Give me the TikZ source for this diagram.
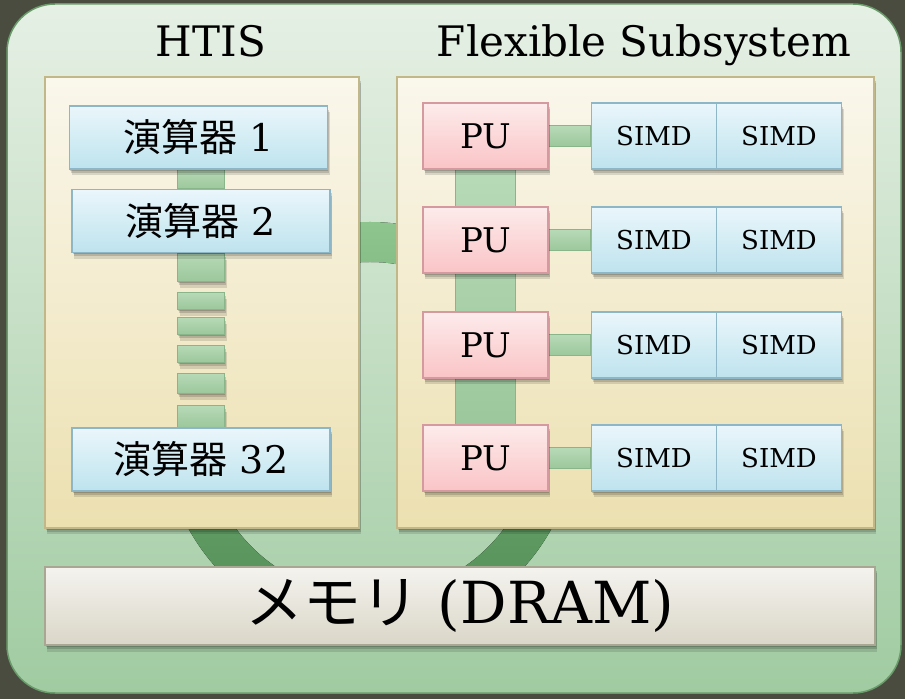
\documentclass[tikz,border=0pt]{standalone}
\usepackage{fontspec}
\setmainfont{DejaVu Serif}
\newfontfamily\cjk{Noto Sans CJK JP}
\usetikzlibrary{shadows}

\definecolor{bgdark}{HTML}{4A4C3F}
\definecolor{frametop}{HTML}{E6F0E5}
\definecolor{framebot}{HTML}{A0CBA1}
\definecolor{frameline}{HTML}{6A9C6B}
\definecolor{paneltop}{HTML}{FAF7EC}
\definecolor{panelbot}{HTML}{ECE0B0}
\definecolor{panelline}{HTML}{C2B788}
\definecolor{bluetop}{HTML}{EAF6FB}
\definecolor{bluebot}{HTML}{BEE3EE}
\definecolor{blueline}{HTML}{8DB6C6}
\definecolor{pinktop}{HTML}{FDEBEB}
\definecolor{pinkbot}{HTML}{FAC4C6}
\definecolor{pinkline}{HTML}{D49A9F}
\definecolor{memtop}{HTML}{F4F3EF}
\definecolor{membot}{HTML}{DAD6C8}
\definecolor{memline}{HTML}{A9A694}
\definecolor{bustop}{HTML}{B7DAB7}
\definecolor{busbot}{HTML}{9CC79C}
\definecolor{busline}{HTML}{8AB58B}
\definecolor{ringtop}{HTML}{8EC48E}
\definecolor{ringbot}{HTML}{4F8B53}

\pgfdeclarelayer{bg}
\pgfdeclarelayer{mid}
\pgfsetlayers{bg,mid,main}

\begin{document}
\begin{tikzpicture}[x=1pt, y=1pt,
	softshadow/.style={drop shadow={shadow xshift=0.5pt, shadow yshift=-2pt, opacity=0.16, fill=black},
		drop shadow={shadow xshift=1.5pt, shadow yshift=-4pt, opacity=0.15, fill=black},
		drop shadow={shadow xshift=2pt, shadow yshift=-6.5pt, opacity=0.12, fill=black}},
	panel/.style={draw=panelline, line width=1.5pt, top color=paneltop, bottom color=panelbot, minimum height=451pt, softshadow},
	calcbox/.style={draw=blueline, line width=1.2pt, top color=bluetop, bottom color=bluebot, minimum width=258pt, minimum height=63pt, inner sep=0pt, font=\fontsize{38}{44}\selectfont, softshadow},
	pubox/.style={draw=pinkline, line width=1.2pt, top color=pinktop, bottom color=pinkbot, minimum width=125pt, minimum height=66pt, inner sep=0pt, font=\fontsize{34}{40}\selectfont, softshadow},
	simdbox/.style={draw=blueline, line width=1.2pt, top color=bluetop, bottom color=bluebot, minimum width=125pt, minimum height=66pt, inner sep=0pt, font=\fontsize{26}{30}\selectfont, softshadow},
	busbar/.style={draw=busline, line width=1pt, top color=bustop, bottom color=busbot},
	title/.style={font=\fontsize{42}{50}\selectfont, inner sep=0pt, anchor=base}]
	\useasboundingbox (0,0) rectangle (905,699);

\begin{pgfonlayer}{bg}
	\fill[bgdark] (0,0) rectangle (905,699);
	\node[draw=frameline, line width=1.5pt, top color=frametop, bottom color=framebot, rounded corners=48pt,
		minimum width=894pt, minimum height=689pt] (frame) at (454,350.5) {};
	% ring bus behind the two panels
	\coordinate (ringc) at (370,270);
	\fill[top color=ringtop, bottom color=ringbot, even odd rule] (ringc) circle (207pt) (ringc) circle (167pt);
	\node[panel, minimum width=314pt] (htis) at (202,396.5) {};
	\node[panel, minimum width=477pt] (flex) at (635.5,396.5) {};
	\node[draw=memline, line width=1.5pt, top color=memtop, bottom color=membot, minimum width=830pt, minimum height=78pt,
		inner sep=0pt, font=\fontsize{58}{66}\selectfont, softshadow] (mem) at (460,93) {{\cjk メモリ} (DRAM)};
\end{pgfonlayer}

	\node[title] (htislbl) at (211,642) {HTIS};
	\node[title] (flexlbl) at (644,642) {Flexible Subsystem};

	\node[calcbox] (c1) at (198.5,561.5) {{\cjk 演算器} 1};
	\node[calcbox] (c2) at (201,478) {{\cjk 演算器} 2};
	\node[calcbox] (c32) at (201,239.5) {{\cjk 演算器} 32};

	\foreach \i/\yy in {1/563, 2/459, 3/354, 4/241}{
		\node[pubox] (pu\i) at (485.5,\yy) {PU};
		\node[simdbox] (sl\i) at (654,\yy) {SIMD};
		\node[simdbox] (sr\i) at (779,\yy) {SIMD};
	}

\begin{pgfonlayer}{mid}
	\draw[busbar] ([xshift=-23.5pt]c2.north) rectangle ([xshift=23.5pt,yshift=20pt]c2.north);
	\draw[busbar, softshadow] ([xshift=-23.5pt]c2.south) rectangle ([xshift=23.5pt,yshift=-28pt]c2.south);
	\foreach \t/\h in {39/17, 64/17, 92/17, 120/20, 152/22}
		\draw[busbar, softshadow] ([xshift=-23.5pt,yshift=-\t pt]c2.south) rectangle ([xshift=23.5pt,yshift=-\t pt-\h pt]c2.south);

	\draw[busbar] ([xshift=-30pt]pu1.south) rectangle ([xshift=30pt]pu4.north);
	\foreach \i in {1,...,4}
		\draw[busbar] ([yshift=10.5pt]pu\i.east) rectangle ([yshift=-10.5pt]sl\i.west);
\end{pgfonlayer}

\end{tikzpicture}
\end{document}
